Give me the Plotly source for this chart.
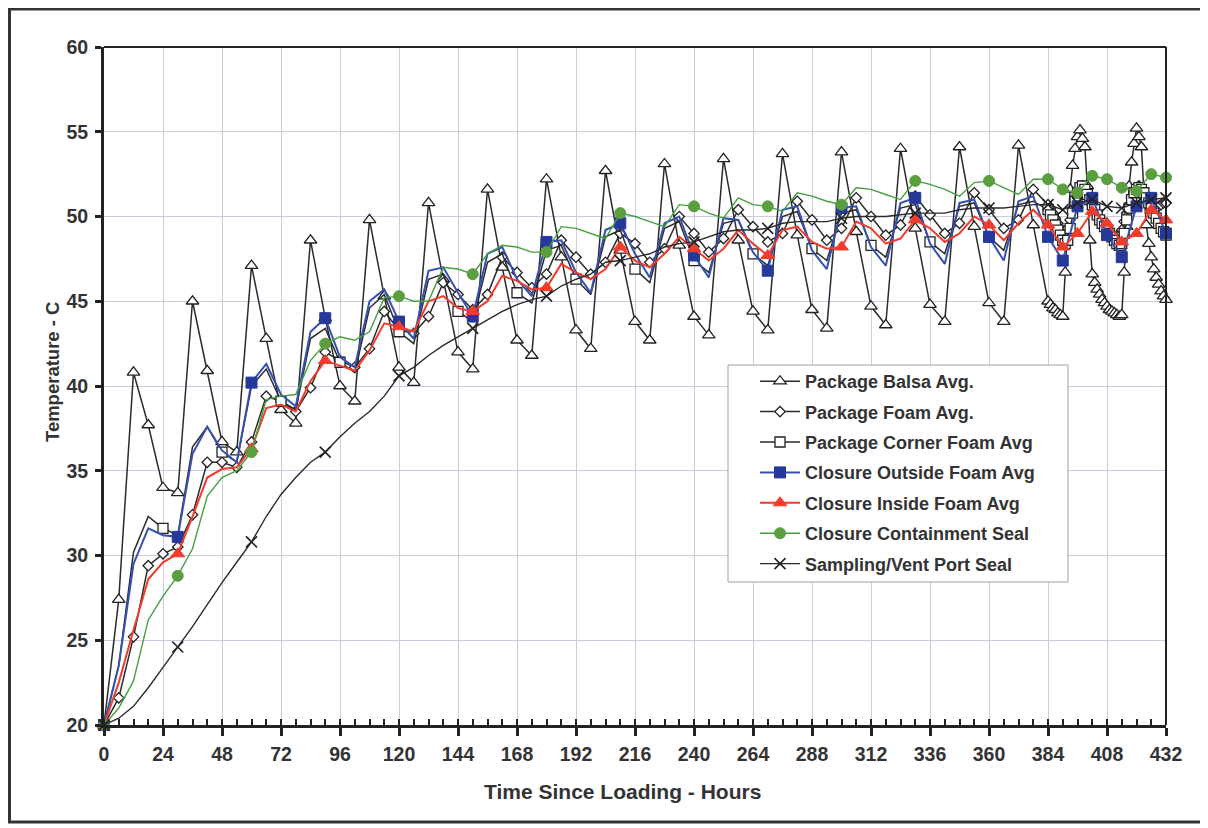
import plotly.graph_objects as go

# ---------------- data ----------------
hours_6h = list(range(0, 433, 6))          # 0..432 every 6 h
hours_6h_main = list(range(0, 385, 6))     # 0..384 every 6 h
hours_end = list(range(385, 433))          # 385..432 hourly

balsa_6h = [20.0, 27.4, 40.8, 37.7, 34.0, 33.7, 45.0, 40.9, 36.7, 36.1,
            47.1, 42.8, 38.6, 37.8, 48.6, 44.0, 40.0, 39.1, 49.8, 45.3,
            41.1, 40.2, 50.8, 46.3, 42.0, 41.0, 51.6, 47.0, 42.7, 41.8,
            52.2, 47.6, 43.3, 42.2, 52.7, 48.0, 43.8, 42.7, 53.1, 48.3,
            44.1, 43.0, 53.4, 48.6, 44.4, 43.3, 53.7, 48.9, 44.5, 43.4,
            53.8, 49.1, 44.7, 43.6, 54.0, 49.3, 44.8, 43.8, 54.1, 49.4,
            44.9, 43.8, 54.2, 49.5, 45.0]
balsa_end = [44.8, 44.6, 44.5, 44.3, 44.2, 44.1, 46.7, 49.3, 51.6, 53.0,
             54.0, 54.7, 55.1, 54.6, 54.1, 51.8, 48.6, 46.6, 46.1, 45.7,
             45.4, 45.1, 44.9, 44.7, 44.5, 44.4, 44.3, 44.2, 44.1, 44.2,
             46.7, 49.4, 51.8, 53.2, 54.3, 55.2, 54.7, 54.1, 51.5, 49.5,
             48.4, 47.6, 46.9, 46.4, 46.0, 45.6, 45.3, 45.1]

foam_6h = [20.0, 21.6, 25.2, 29.4, 30.1, 30.5, 32.4, 35.5, 35.5, 35.2,
           36.7, 39.4, 39.1, 38.5, 39.9, 42.0, 41.5, 41.1, 42.2, 44.4,
           43.3, 43.1, 44.1, 46.1, 45.4, 44.5, 45.4, 47.6, 46.7, 45.8,
           46.6, 48.6, 47.6, 46.6, 47.3, 49.0, 48.4, 47.3, 48.1, 50.0,
           49.0, 47.9, 48.7, 50.4, 49.4, 48.5, 49.0, 50.9, 49.8, 48.6,
           49.3, 51.1, 50.0, 48.9, 49.5, 51.2, 50.1, 49.0, 49.6, 51.4,
           50.4, 49.3, 49.8, 51.6, 50.7]
foam_end = [50.5, 50.2, 49.9, 49.6, 49.3, 49.1, 49.0, 49.3, 49.8, 50.4,
            50.9, 51.3, 51.6, 51.8, 51.6, 51.3, 51.0, 50.7, 50.4, 50.1,
            49.8, 49.6, 49.4, 49.2, 49.0, 48.9, 48.8, 48.8, 48.9, 49.2,
            49.7, 50.2, 50.7, 51.1, 51.4, 51.7, 51.8, 51.6, 51.3, 51.0,
            50.8, 50.6, 50.5, 50.5, 50.6, 50.7, 50.8, 50.8]

corner_6h = [20.0, 23.5, 30.2, 32.3, 31.6, 31.2, 36.4, 37.6, 36.1, 35.5,
             40.0, 41.0, 39.1, 38.6, 42.8, 43.4, 41.4, 40.8, 44.6, 45.4,
             43.2, 42.5, 46.3, 46.6, 44.4, 43.8, 47.3, 47.8, 45.5, 44.9,
             48.0, 48.3, 46.3, 45.4, 48.8, 49.2, 46.9, 46.1, 49.3, 49.7,
             47.4, 46.7, 49.6, 49.8, 47.8, 47.1, 50.0, 50.3, 48.1, 47.4,
             50.2, 50.4, 48.3, 47.6, 50.5, 50.7, 48.5, 47.8, 50.6, 50.8,
             48.8, 48.0, 50.7, 50.9, 50.4]
corner_end = [50.1, 49.8, 49.5, 49.2, 48.9, 48.6, 48.4, 48.6, 49.3, 50.2,
              50.9, 51.4, 51.7, 51.8, 51.6, 51.3, 51.0, 50.7, 50.4, 50.1,
              49.8, 49.6, 49.4, 49.2, 49.0, 48.8, 48.6, 48.4, 48.3, 48.4,
              49.0, 49.8, 50.5, 51.0, 51.4, 51.6, 51.7, 51.6, 51.4, 51.1,
              50.8, 50.5, 50.2, 49.9, 49.6, 49.3, 49.1, 48.9]

outside_6h = [20.0, 23.5, 29.5, 31.6, 31.2, 31.1, 36.0, 37.6, 36.2, 35.5,
              40.2, 41.3, 39.5, 38.8, 43.2, 44.0, 41.7, 41.1, 45.0, 45.7,
              43.8, 42.8, 46.8, 47.0, 45.5, 44.1, 47.8, 48.2, 46.3, 45.3,
              48.5, 48.6, 46.7, 45.5, 49.2, 49.6, 47.8, 46.4, 49.6, 50.0,
              47.7, 46.4, 49.9, 49.8, 47.9, 46.8, 50.4, 50.6, 48.0, 46.9,
              50.5, 50.6, 48.2, 47.1, 50.8, 51.1, 48.4, 47.2, 50.8, 51.0,
              48.8, 47.4, 50.9, 51.2, 48.8, 47.4, 50.6, 51.1, 48.9, 47.6,
              50.6, 51.1, 49.0]

inside_6h = [20.0, 22.5, 25.6, 28.6, 29.6, 30.1, 32.3, 34.6, 35.1, 35.2,
             36.3, 38.7, 38.9, 38.5, 40.3, 41.5, 41.2, 40.9, 42.1, 43.7,
             43.5, 43.2, 45.0, 45.3, 44.6, 44.4, 45.0, 46.5, 46.2, 45.7,
             45.8, 47.2, 46.7, 46.3, 46.9, 48.2, 47.4, 47.0, 47.8, 48.8,
             48.1, 47.4, 48.1, 49.2, 48.4, 47.7, 49.2, 49.4, 48.5, 48.1,
             48.2, 49.7, 49.3, 48.4, 48.7, 49.8, 49.3, 48.5, 49.0, 50.0,
             49.5, 48.6, 49.6, 50.4, 49.5, 48.2, 49.0, 50.3, 49.6, 48.5,
             49.0, 50.4, 49.8]

seal_6h = [20.0, 21.0, 22.6, 26.2, 27.6, 28.8, 30.4, 33.5, 34.6, 35.0,
           36.1, 39.2, 39.4, 39.5, 41.5, 42.5, 42.9, 42.7, 43.2, 45.2,
           45.3, 45.0, 45.0, 47.0, 46.9, 46.6, 47.8, 48.3, 48.2, 47.9,
           47.9, 49.4, 49.3, 49.0, 48.7, 50.2, 50.0, 49.7, 49.4, 50.7,
           50.6, 50.2, 49.9, 51.1, 50.7, 50.6, 50.3, 51.4, 51.2, 50.9,
           50.7, 51.7, 51.6, 51.3, 51.0, 52.1, 51.9, 51.6, 51.2, 52.0,
           52.1, 51.7, 51.3, 52.2, 52.2, 51.6, 51.4, 52.4, 52.2, 51.7,
           51.5, 52.5, 52.3]

vent_6h = [20.0, 20.4, 21.1, 22.2, 23.4, 24.6, 25.8, 27.1, 28.4, 29.6,
           30.8, 32.3, 33.6, 34.6, 35.5, 36.1, 37.0, 37.8, 38.5, 39.4,
           40.6, 41.1, 41.8, 42.4, 42.9, 43.4, 43.9, 44.4, 44.8, 45.1,
           45.3, 45.9, 46.3, 46.6, 47.3, 47.4, 47.6, 47.8, 48.2, 48.4,
           48.5, 48.8, 49.1, 49.2, 49.2, 49.3, 49.6, 49.7, 49.7, 49.7,
           49.9, 50.0, 50.0, 50.0, 50.1, 50.2, 50.2, 50.2, 50.4, 50.5,
           50.5, 50.5, 50.6, 50.7, 50.7, 50.4, 50.8, 51.0, 50.6, 50.5,
           50.8, 51.0, 51.1]

x_ticks = list(range(0, 433, 24))
y_ticks = list(range(20, 61, 5))

# ---------------- styling ----------------
FONT = "Liberation Sans, Arial, sans-serif"
TXT = "#333333"


def every(n, length):
    return [i for i in range(length) if i % n == 0]


n6m = len(hours_6h_main)
sel_all_hourly = list(range(len(hours_6h_main) + len(hours_end)))
sel_corner = every(4, n6m) + list(range(n6m, n6m + len(hours_end)))
sel_closure = [i for i, h in enumerate(hours_6h) if (h <= 360 and i % 5 == 0) or h >= 384]

series = [
    dict(name="Package Balsa Avg.", x=hours_6h_main + hours_end, y=balsa_6h + balsa_end,
         sel=sel_all_hourly, lc="#2b2b2b", lw=1.5,
         m=dict(symbol="triangle-up", size=11, color="white", line=dict(color="#222222", width=1.3))),
    dict(name="Package Foam Avg.", x=hours_6h_main + hours_end, y=foam_6h + foam_end,
         sel=sel_all_hourly, lc="#2b2b2b", lw=1.5,
         m=dict(symbol="diamond", size=8, color="white", line=dict(color="#222222", width=1.3))),
    dict(name="Package Corner Foam Avg", x=hours_6h_main + hours_end, y=corner_6h + corner_end,
         sel=sel_corner, lc="#2b2b2b", lw=1.5,
         m=dict(symbol="square", size=10, color="white", line=dict(color="#222222", width=1.3))),
    dict(name="Closure Outside Foam Avg", x=hours_6h, y=outside_6h,
         sel=sel_closure, lc="#3550b4", lw=2,
         m=dict(symbol="square", size=11, color="#26389a", line=dict(color="#26389a", width=1))),
    dict(name="Closure Inside Foam Avg", x=hours_6h, y=inside_6h,
         sel=sel_closure, lc="#f03c2c", lw=2,
         m=dict(symbol="triangle-up", size=12, color="#f03c2c", line=dict(color="#f03c2c", width=1))),
    dict(name="Closure Containment Seal", x=hours_6h, y=seal_6h,
         sel=sel_closure, lc="#48a040", lw=1.4,
         m=dict(symbol="circle", size=11, color="#5a9e40", line=dict(color="#5a9e40", width=1))),
    dict(name="Sampling/Vent Port Seal", x=hours_6h, y=vent_6h,
         sel=sel_closure, lc="#2b2b2b", lw=1.4,
         m=dict(symbol="x-thin", size=11, color="#222222", line=dict(color="#222222", width=1.6))),
]

fig = go.Figure()

# legend entries (line + marker sample)
for s in series:
    fig.add_trace(go.Scatter(x=[None], y=[None], mode="lines+markers", name=s["name"],
                             legendgroup=s["name"], line=dict(color=s["lc"], width=s["lw"]),
                             marker=s["m"], showlegend=True))

# data: line then markers, series by series
for s in series:
    fig.add_trace(go.Scatter(x=s["x"], y=s["y"], mode="lines", legendgroup=s["name"],
                             showlegend=False, line=dict(color=s["lc"], width=s["lw"]),
                             hoverinfo="skip"))
    fig.add_trace(go.Scatter(x=[s["x"][i] for i in s["sel"]], y=[s["y"][i] for i in s["sel"]],
                             mode="markers", legendgroup=s["name"], showlegend=False,
                             marker=s["m"], cliponaxis=False, name=s["name"]))

axis_common = dict(
    showgrid=True, gridcolor="#c8cde0", gridwidth=1, zeroline=False,
    showline=True, linecolor="#222222", linewidth=3,
    tickcolor="#222222", tickwidth=2.5,
    tickfont=dict(family=FONT, size=19.5, color=TXT, weight="bold"),
)

# page has an 8px body margin; figure is laid out to compensate
fig.update_layout(
    width=1200, height=820,
    margin=dict(l=96, r=42, t=39, b=103),
    paper_bgcolor="white", plot_bgcolor="white",
    font=dict(family=FONT, color=TXT),
    xaxis=dict(range=[0, 432], tickmode="array", tickvals=x_ticks, ticktext=[str(v) for v in x_ticks],
               ticks="outside", ticklen=8, ticklabelstandoff=2,
               minor=dict(ticks="inside", ticklen=6, tickwidth=2, tickcolor="#222222",
                          dtick=6, tick0=0, showgrid=False),
               **axis_common),
    yaxis=dict(range=[20, 60], tickmode="array", tickvals=y_ticks, ticktext=[str(v) for v in y_ticks],
               ticks="outside", ticklen=6, ticklabelstandoff=3,
               **axis_common),
    legend=dict(x=0.613, y=0.5339, xanchor="left", yanchor="top",
                bgcolor="rgba(0,0,0,0)", borderwidth=0,
                font=dict(family=FONT, size=18, color=TXT, weight="bold"),
                traceorder="grouped", tracegroupgap=4, itemwidth=40),
    showlegend=True,
    annotations=[
        dict(text="Time Since Loading - Hours", xref="paper", yref="paper", x=0.4878, y=-0.0988,
             xanchor="center", yanchor="middle", showarrow=False,
             font=dict(family=FONT, size=21, color=TXT, weight="bold")),
        dict(text="Temperature - C", xref="paper", yref="paper", x=-0.049, y=0.522,
             xanchor="center", yanchor="middle", showarrow=False, textangle=-90,
             font=dict(family=FONT, size=18.5, color=TXT, weight="bold")),
    ],
    shapes=[
        # legend box
        dict(type="rect", xref="paper", yref="paper", x0=0.5876, x1=0.9077, y0=0.2109, y1=0.531,
             line=dict(color="#a0a0a8", width=1), fillcolor="white", layer="above"),
        # top and right border of plot area
        dict(type="line", xref="paper", yref="paper", x0=0, x1=1, y0=1, y1=1,
             line=dict(color="#222222", width=2)),
        dict(type="line", xref="paper", yref="paper", x0=1, x1=1, y0=0, y1=1,
             line=dict(color="#222222", width=2)),
        # outer frame around the whole chart
        dict(type="rect", xref="paper", yref="paper", x0=-0.0890, x1=1.0348, y0=-0.1431, y1=1.0560,
             line=dict(color="#333333", width=3), fillcolor="rgba(0,0,0,0)", layer="below"),
    ],
)

fig.write_html("out.html")
